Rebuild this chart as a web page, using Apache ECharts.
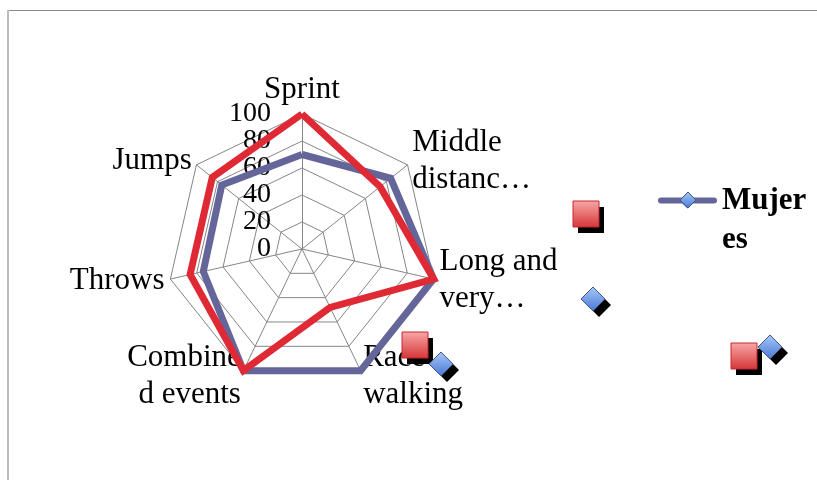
<!DOCTYPE html>
<html><head><meta charset="utf-8">
<script src="https://cdn.jsdelivr.net/npm/echarts@6/dist/echarts.min.js"></script>
<style>html,body{margin:0;padding:0;background:#fff}#c{width:817px;height:480px}</style>
</head><body><div id="c"></div>
<script>
// ---- data (Excel order, clockwise from top) ----
const categories = ['Sprint', 'Middle\ndistanc…', 'Long and\nvery…', 'Race\nwalking', 'Combine\nd events', 'Throws', 'Jumps'];
const mujeres = [70, 84, 100, 100, 100, 75, 76];
const hombres = [100, 74, 100, 48, 100, 85, 85];
const tickValues = [0, 20, 40, 60, 80, 100];
const tickLabels = ['0', '20', '40', '60', '80', '100'];
const seriesNames = ['Mujeres', 'Hombres'];
const legendLabel = 'Mujer\nes';

// ECharts places indicators counter-clockwise; Excel goes clockwise
const order = [0].concat(categories.map((_, i) => i).slice(1).reverse());
const pick = arr => order.map(i => arr[i]);

const SERIF = '"Liberation Serif", "Times New Roman", serif';
const BLUE = '#646699', RED = '#DF2A35';
const tMin = tickValues[0], tMax = tickValues[tickValues.length - 1], tSplit = tickValues.length - 1;

// tick labels are split over two identical radar frames so that ECharts' min/max overlap check keeps them all
const labelFor = parity => v => {
  const k = tickValues.indexOf(v);
  return (k >= 0 && k % 2 === parity) ? tickLabels[k] : '';
};

function buildIndicators(parity) {
  return order.map((i, k) => {
    const o = { name: categories[i], min: tMin, max: tMax };
    if (k === 0) o.axisLabel = {
      show: true, formatter: labelFor(parity),
      showMinLabel: parity === 0, showMaxLabel: parity === 1
    };
    return o;
  });
}

const labelStyle = { show: false, margin: 31, color: '#000', fontFamily: SERIF, fontSize: 28 };

function redSquare(x, y) {
  return [
    { type: 'rect', z: 100, shape: { x: x + 5, y: y + 6, width: 26, height: 26 }, style: { fill: '#000' } },
    { type: 'rect', z: 101, shape: { x: x, y: y, width: 26, height: 26 },
      style: { fill: new echarts.graphic.LinearGradient(0, 0, 0, 1, [{ offset: 0, color: '#F8A8A8' }, { offset: 1, color: '#D63538' }]),
               stroke: '#C8262C', lineWidth: 1 } }
  ];
}
function blueDiamond(cx, cy, h, shadow) {
  const pts = (dx, dy) => [[cx + dx, cy - h + dy], [cx + h + dx, cy + dy], [cx + dx, cy + h + dy], [cx - h + dx, cy + dy]];
  const out = [];
  if (shadow) out.push({ type: 'polygon', z: 100, shape: { points: pts(6, 6) }, style: { fill: '#000' } });
  out.push({ type: 'polygon', z: 101, shape: { points: pts(0, 0) },
    style: { fill: new echarts.graphic.LinearGradient(0, 0, 0, 1, [{ offset: 0, color: '#A9C8F6' }, { offset: 1, color: '#4778D4' }]),
             stroke: '#44548E', lineWidth: 1 } });
  return out;
}

const graphics = [
  { type: 'line', z: 0, shape: { x1: 8, y1: 10.5, x2: 830, y2: 10.5 }, style: { stroke: '#8a8a8a', lineWidth: 1 } },
  { type: 'line', z: 0, shape: { x1: 8, y1: 10, x2: 8, y2: 490 }, style: { stroke: '#bdbdbd', lineWidth: 2 } }
].concat(
  redSquare(573, 201), redSquare(402, 332), redSquare(731, 343),
  blueDiamond(593, 299, 12, true), blueDiamond(441, 364, 12, true), blueDiamond(770, 347, 12, true),
  blueDiamond(688, 200, 8, false)
);

const radarBase = {
  center: [302, 249],
  radius: 135,
  startAngle: 90,
  shape: 'polygon',
  splitNumber: tSplit,
  nameGap: 6,
  axisTick: { show: false },
  splitArea: { show: false }
};

const chart = echarts.init(document.getElementById('c'), null, { renderer: 'canvas' });
chart.setOption({
  animation: false,
  backgroundColor: '#fff',
  legend: {
    data: [{ name: seriesNames[0], icon: 'path://M3,5 L56,5 A3,3 0 0 1 56,11 L3,11 A3,3 0 0 1 3,5 Z M29.5,0 L38,8 L29.5,16 L21,8 Z' }],
    left: 653, top: 137,
    itemWidth: 59, itemHeight: 17,
    formatter: () => '\n' + legendLabel,
    textStyle: { color: '#000', fontFamily: SERIF, fontSize: 31, fontWeight: 'bold', lineHeight: 39 }
  },
  radar: [
    Object.assign({}, radarBase, {
      indicator: buildIndicators(0),
      axisName: { color: '#000', fontFamily: SERIF, fontSize: 31, lineHeight: 37 },
      splitLine: { lineStyle: { color: '#868686', width: 1 } },
      axisLine: { lineStyle: { color: '#868686', width: 1 } },
      axisLabel: labelStyle
    }),
    Object.assign({}, radarBase, {
      indicator: buildIndicators(1),
      axisName: { show: false },
      splitLine: { show: false },
      axisLine: { show: false },
      axisLabel: labelStyle
    })
  ],
  series: [{
    type: 'radar',
    radarIndex: 0,
    symbol: 'none',
    data: [
      { name: seriesNames[0], value: pick(mujeres), lineStyle: { color: BLUE, width: 7, join: 'miter' }, itemStyle: { color: BLUE } },
      { name: seriesNames[1], value: pick(hombres), lineStyle: { color: RED, width: 7, join: 'miter' }, itemStyle: { color: RED } }
    ]
  }],
  graphic: graphics
});
</script></body></html>
